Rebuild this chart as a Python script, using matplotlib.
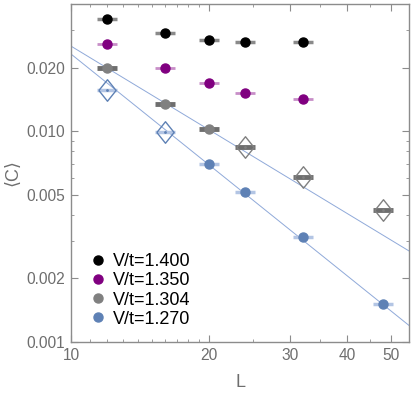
import numpy as np
import matplotlib
matplotlib.use("Agg")
import matplotlib.pyplot as plt
from matplotlib.ticker import FixedLocator, NullFormatter

plt.rcParams['font.family'] = ['Liberation Sans', 'DejaVu Sans']

# data
L = [12, 16, 20, 24, 32, 48]
c_1400 = [0.0338, 0.0290, 0.0270, 0.0264, 0.0264]
c_1350 = [0.0258, 0.0200, 0.0169, 0.0151, 0.0142]
c_1304 = [0.0200, 0.01347, 0.0102, 0.0084, 0.00605, 0.00422]
c_1270 = [0.0156, 0.0099, 0.00695, 0.00512, 0.00313, 0.00151]
open_1304 = [False, False, False, True, True, True]
open_1270 = [True, True, False, False, False, False]

# power-law fits  C = A * (L/10)^(-b)
fit_1304 = (0.02526, 1.317)
fit_1270 = (0.02317, 1.745)

labels = ['V/t=1.400', 'V/t=1.350', 'V/t=1.304', 'V/t=1.270']
colors = ['#000000', '#800080', '#808080', '#5e81b5']
bar_colors = ['#8a8a8a', '#c88ec8', '#6e6e6e', '#b3c5e4']
bar_widths = [2.5, 2.0, 3.5, 2.5]

fig = plt.figure(figsize=(4.15, 3.93), dpi=100)
ax = fig.add_axes([71/415, 51/393, 338/415, 338/393])
ax.set_xscale('log')
ax.set_yscale('log')
ax.set_xlim(10, 54.6)
ax.set_ylim(0.001, 0.04)

# fit lines
Lf = np.linspace(10, 54.6, 100)
for A, b in [fit_1304, fit_1270]:
    ax.plot(Lf, A * (Lf / 10) ** (-b), color='#8fa9d9', lw=0.7, zorder=1)

diamond = [(-0.8, 0), (0, 1), (0.8, 0), (0, -1), (-0.8, 0)]

series = [c_1400, c_1350, c_1304, c_1270]
opens = [[False] * 5, [False] * 5, open_1304, open_1270]
for vals, op, col, bc, bw, lab in zip(series, opens, colors, bar_colors, bar_widths, labels):
    xs = L[:len(vals)]
    ax.plot(xs, vals, ls='none', marker='_', ms=14, mew=bw, color=bc, zorder=2)
    xf = [x for x, o in zip(xs, op) if not o]
    yf = [v for v, o in zip(vals, op) if not o]
    xo = [x for x, o in zip(xs, op) if o]
    yo = [v for v, o in zip(vals, op) if o]
    ax.plot(xf, yf, ls='none', marker='o', ms=6.5, color=col, mec=col, zorder=3)
    if xo:
        ax.plot(xo, yo, ls='none', marker=diamond, ms=15.5, mfc='none', mec=col, mew=1.0, zorder=3)
        ax.plot(xo, yo, ls='none', marker='.', ms=2, color=col, zorder=3)
    ax.plot([], [], ls='none', marker='o', ms=6.5, color=col, label=lab)

ax.legend(loc='lower left', bbox_to_anchor=(0.015, 0.005), frameon=False, fontsize=13,
          handlelength=1.0, handletextpad=0.35, labelspacing=0.12, borderpad=0.2)

# ticks, Mathematica style
axc = '#8c8c8c'
for s in ax.spines.values():
    s.set_color(axc)
    s.set_linewidth(1.0)
ax.xaxis.set_major_locator(FixedLocator([10, 20, 30, 40, 50]))
ax.xaxis.set_minor_locator(FixedLocator([11, 12, 13, 14, 15, 16, 17, 18, 19, 25, 35, 45]))
ax.set_xticklabels(['10', '20', '30', '40', '50'])
ax.xaxis.set_minor_formatter(NullFormatter())
ax.yaxis.set_major_locator(FixedLocator([0.001, 0.002, 0.005, 0.01, 0.02]))
ax.yaxis.set_minor_locator(FixedLocator([0.003, 0.004, 0.006, 0.007, 0.008, 0.009, 0.03, 0.04]))
ax.set_yticklabels(['0.001', '0.002', '0.005', '0.010', '0.020'])
ax.yaxis.set_minor_formatter(NullFormatter())
ax.tick_params(which='both', direction='in', top=True, right=True, color=axc,
               labelcolor='#6e6e6e', labelsize=11.2)
ax.tick_params(which='major', length=5, width=0.8, pad=4)
ax.tick_params(which='minor', length=2.5, width=0.6)

ax.set_xlabel('L', fontsize=13, color='#6e6e6e', labelpad=8)
ax.set_ylabel('⟨C⟩', fontsize=13, color='#6e6e6e', labelpad=4)

fig.savefig('out.png', dpi=100)
